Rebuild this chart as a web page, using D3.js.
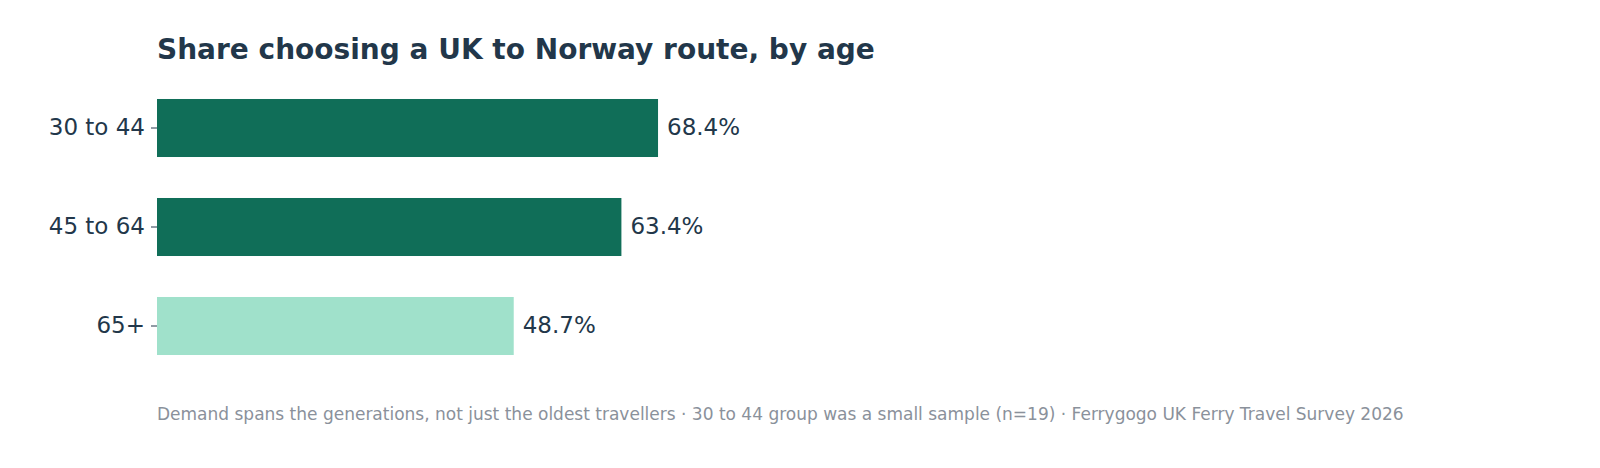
<!DOCTYPE html>
<html><head><meta charset="utf-8">
<script src="https://cdn.jsdelivr.net/npm/d3@7"></script>
<style>body{margin:0;background:#fff;font-family:"DejaVu Sans",sans-serif;}</style>
</head><body>
<svg id="chart" width="1600" height="468"></svg>
<script>
// chart data
const ages = ["30 to 44", "45 to 64", "65+"];
const shares = [68.4, 63.4, 48.7];
const barColors = ["#106e58", "#106e58", "#a0e1cb"];

const svg = d3.select("#chart");
const ink = "#22374a";

let x = d3.scaleLinear().domain([0, 100]).range([157, 889.5]);
let y = d3.scaleBand().domain(ages).range([78.5, 375.5]).paddingInner(0.414).paddingOuter(0.207);

svg.append("text")
  .attr("x", 157).attr("y", 59)
  .attr("fill", ink).attr("font-size", 28).attr("font-weight", "bold")
  .text("Share choosing a UK to Norway route, by age");

svg.selectAll("rect.bar")
  .data(ages)
  .enter().append("rect")
    .attr("class", "bar")
    .attr("x", x(0))
    .attr("y", d => y(d))
    .attr("width", (d, i) => x(shares[i]) - x(0))
    .attr("height", y.bandwidth())
    .attr("fill", (d, i) => barColors[i]);

svg.selectAll("text.val")
  .data(ages)
  .enter().append("text")
    .attr("class", "val")
    .attr("x", (d, i) => x(shares[i]) + 9)
    .attr("y", d => y(d) + y.bandwidth() / 2)
    .attr("dy", "0.32em")
    .attr("fill", ink).attr("font-size", 23)
    .text((d, i) => shares[i].toFixed(1) + "%");

let yAxis = svg.append("g")
  .attr("transform", "translate(157,0)")
  .call(d3.axisLeft(y).tickSize(6).tickPadding(6));
yAxis.select(".domain").remove();
yAxis.selectAll("line").attr("stroke", ink);
yAxis.selectAll("text").attr("fill", ink).attr("font-size", 23)
  .attr("font-family", "DejaVu Sans, sans-serif");

svg.append("text")
  .attr("x", 157).attr("y", 420)
  .attr("fill", "#8a919b").attr("font-size", 17)
  .text("Demand spans the generations, not just the oldest travellers  \u00b7  30 to 44 group was a small sample (n=19)  \u00b7  Ferrygogo UK Ferry Travel Survey 2026");
</script>
</body></html>
